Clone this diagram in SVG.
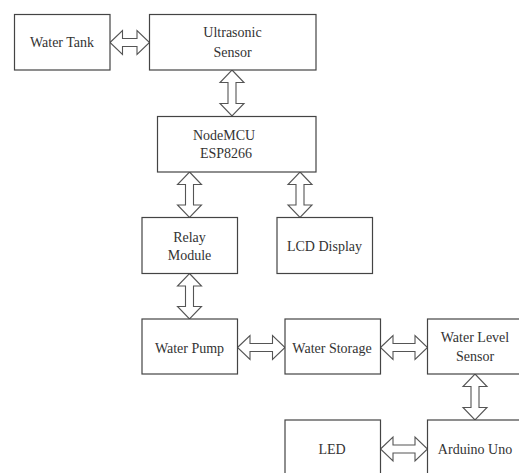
<svg xmlns="http://www.w3.org/2000/svg" width="519" height="473" viewBox="0 0 519 473">
<style>
.box{fill:#fff;stroke:#444;stroke-width:1.2}
.arr{fill:#fff;stroke:#555;stroke-width:1.1;stroke-linejoin:miter}
text{font-family:"Liberation Serif","Times New Roman",serif;font-size:14px;fill:#333;text-anchor:middle}
</style>
<rect x="0" y="0" width="519" height="473" fill="#fff"/>
<g id="connectors">
<path class="arr" d="M110 42.5 L122.5 30.5 L122.5 38.5 L137 38.5 L137 30.5 L149.5 42.5 L137 54.5 L137 46.5 L122.5 46.5 L122.5 54.5 Z"/>
<path class="arr" d="M232 70 L244 82.5 L236 82.5 L236 103.5 L244 103.5 L232 116 L220 103.5 L228 103.5 L228 82.5 L220 82.5 Z"/>
<path class="arr" d="M189.5 172 L201.5 184.5 L193.5 184.5 L193.5 205 L201.5 205 L189.5 217.5 L177.5 205 L185.5 205 L185.5 184.5 L177.5 184.5 Z"/>
<path class="arr" d="M300 172 L312 184.5 L304 184.5 L304 205 L312 205 L300 217.5 L288 205 L296 205 L296 184.5 L288 184.5 Z"/>
<path class="arr" d="M189.5 273.5 L201.5 286 L193.5 286 L193.5 306.5 L201.5 306.5 L189.5 319 L177.5 306.5 L185.5 306.5 L185.5 286 L177.5 286 Z"/>
<path class="arr" d="M237.5 347.5 L250 335.5 L250 343.5 L272.5 343.5 L272.5 335.5 L285 347.5 L272.5 359.5 L272.5 351.5 L250 351.5 L250 359.5 Z"/>
<path class="arr" d="M380.5 347.5 L393 335.5 L393 343.5 L415 343.5 L415 335.5 L427.5 347.5 L415 359.5 L415 351.5 L393 351.5 L393 359.5 Z"/>
<path class="arr" d="M475 374 L487 386.5 L479 386.5 L479 407.5 L487 407.5 L475 420 L463 407.5 L471 407.5 L471 386.5 L463 386.5 Z"/>
<path class="arr" d="M380.5 449 L393 437 L393 445 L415 445 L415 437 L427.5 449 L415 461 L415 453 L393 453 L393 461 Z"/>
</g>
<g id="water-tank"><rect class="box" x="14.5" y="14.5" width="95.5" height="55.5"/><text x="62" y="47">Water Tank</text></g>
<g id="ultrasonic-sensor"><rect class="box" x="149.5" y="14.5" width="166.5" height="55.5"/><text x="232.5" y="37">Ultrasonic</text><text x="232.5" y="57">Sensor</text></g>
<g id="nodemcu"><rect class="box" x="157.5" y="116.5" width="158.5" height="55.5"/><text x="224" y="140">NodeMCU</text><text x="226" y="158">ESP8266</text></g>
<g id="relay-module"><rect class="box" x="142" y="217.5" width="95.5" height="56"/><text x="189.5" y="242">Relay</text><text x="189.5" y="259.5">Module</text></g>
<g id="lcd-display"><rect class="box" x="277" y="217.5" width="95.5" height="56"/><text x="324.5" y="251">LCD Display</text></g>
<g id="water-pump"><rect class="box" x="142" y="319" width="95.5" height="55"/><text x="189.5" y="352.5">Water Pump</text></g>
<g id="water-storage"><rect class="box" x="285" y="319" width="95.5" height="55"/><text x="332" y="352.5">Water Storage</text></g>
<g id="water-level-sensor"><rect class="box" x="427.5" y="319" width="95" height="55"/><text x="475" y="342">Water Level</text><text x="475" y="361">Sensor</text></g>
<g id="led"><rect class="box" x="285" y="420" width="95.5" height="60"/><text x="332" y="453.5">LED</text></g>
<g id="arduino-uno"><rect class="box" x="427.5" y="420" width="95" height="60"/><text x="475" y="453.5">Arduino Uno</text></g>
</svg>
